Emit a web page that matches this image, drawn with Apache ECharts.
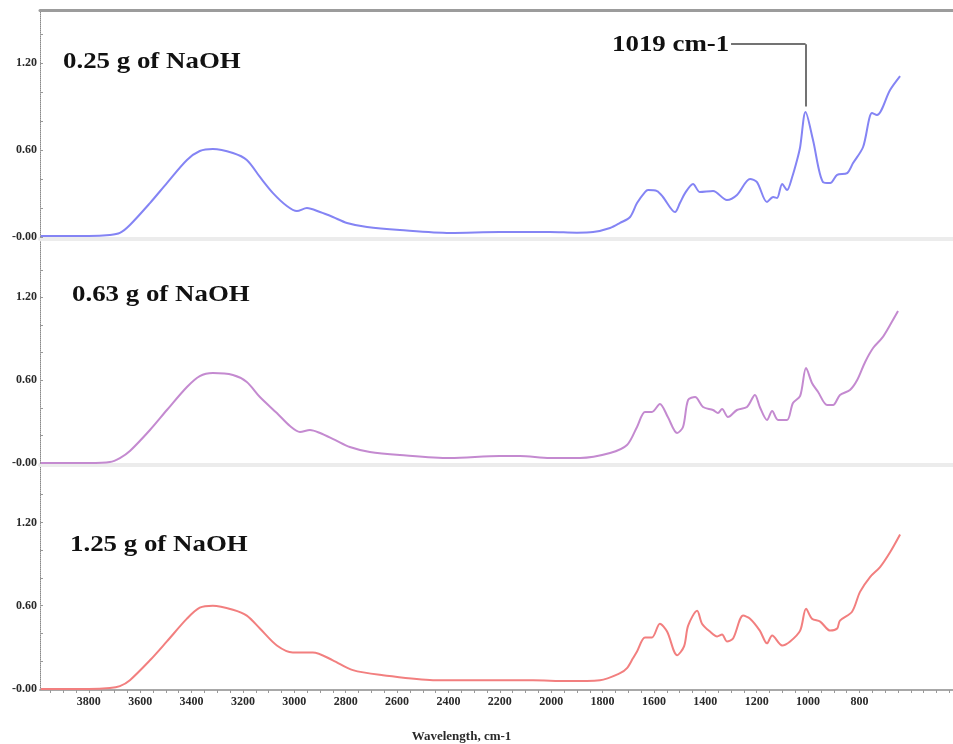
<!DOCTYPE html>
<html>
<head>
<meta charset="utf-8">
<script src="https://cdn.jsdelivr.net/npm/echarts@6/dist/echarts.min.js"></script>
<style>
  html,body{margin:0;padding:0;background:#fff;}
  #chart{width:953px;height:744px;}
</style>
</head>
<body>
<div id="chart"></div>
<script>
// ==================== DATA ====================
// wavenumber (cm-1) / absorbance
const wn1=[3987,3900,3800,3718,3679,3640,3562,3496,3418,3368,3317,3239,3185,3134,3083,3029,2990,2951,2900,2850,2795,2717,2589,2394,2200,2005,1900,1837,1771,1732,1693,1666,1635,1623,1588,1565,1518,1499,1479,1448,1421,1370,1316,1277,1226,1199,1160,1136,1121,1101,1082,1062,1043,1031,1010,981,942,914,887,848,825,786,751,732,681,642];
const ab1=[0.007,0.007,0.007,0.014,0.028,0.083,0.234,0.372,0.531,0.593,0.607,0.579,0.531,0.414,0.303,0.214,0.179,0.200,0.172,0.138,0.097,0.069,0.048,0.028,0.034,0.034,0.030,0.034,0.062,0.097,0.138,0.234,0.310,0.324,0.317,0.276,0.172,0.234,0.303,0.366,0.310,0.317,0.255,0.290,0.400,0.379,0.241,0.276,0.269,0.366,0.324,0.414,0.531,0.621,0.862,0.669,0.379,0.372,0.428,0.441,0.510,0.621,0.855,0.841,1.014,1.110];

const wn2=[3987,3800,3718,3679,3640,3562,3496,3418,3368,3317,3239,3185,3134,3068,3017,2978,2939,2900,2842,2784,2706,2589,2394,2200,2122,2005,1888,1771,1705,1666,1635,1608,1577,1546,1510,1487,1467,1440,1409,1370,1351,1335,1312,1277,1238,1207,1188,1160,1140,1117,1082,1059,1031,1008,985,961,926,903,876,837,809,778,747,712,681,650];
const ab2=[0.000,0.000,0.007,0.036,0.087,0.239,0.384,0.551,0.630,0.652,0.638,0.587,0.478,0.362,0.268,0.225,0.239,0.217,0.167,0.116,0.080,0.058,0.036,0.051,0.051,0.036,0.036,0.072,0.130,0.261,0.370,0.370,0.428,0.333,0.217,0.261,0.457,0.478,0.406,0.384,0.362,0.391,0.333,0.384,0.406,0.493,0.406,0.312,0.377,0.312,0.312,0.435,0.486,0.688,0.580,0.514,0.420,0.420,0.493,0.529,0.601,0.732,0.833,0.906,1.000,1.101];

const wn3=[3987,3800,3718,3679,3640,3562,3496,3418,3368,3317,3239,3185,3134,3068,3006,2928,2850,2772,2655,2460,2266,2071,1939,1810,1732,1705,1682,1666,1635,1608,1577,1549,1510,1483,1467,1432,1413,1382,1354,1335,1316,1292,1253,1226,1188,1160,1140,1101,1070,1031,1008,985,953,914,887,876,829,798,759,720,681,642];
const ab3=[0.000,0.000,0.007,0.021,0.064,0.207,0.343,0.507,0.586,0.600,0.571,0.529,0.436,0.314,0.264,0.264,0.207,0.136,0.100,0.064,0.064,0.064,0.057,0.064,0.114,0.150,0.221,0.271,0.371,0.371,0.471,0.414,0.243,0.307,0.457,0.564,0.471,0.414,0.379,0.393,0.343,0.364,0.529,0.507,0.421,0.329,0.386,0.314,0.343,0.421,0.579,0.507,0.486,0.421,0.436,0.493,0.557,0.700,0.807,0.879,0.986,1.114];

const panelNames=['0.25 g of NaOH','0.63 g of NaOH','1.25 g of NaOH'];
const xTickLabels=[3800,3600,3400,3200,3000,2800,2600,2400,2200,2000,1800,1600,1400,1200,1000,800];
const yTickLabels=[0,0.6,1.2];
const peakLabel='1019 cm-1', peakWn=1010, peakTop=1.33, peakLeaderEnd=1300, peakLeaderLow=0.9;

// ==================== CHART ====================
const FONT='"Liberation Serif", "Times New Roman", serif';
const colors=['#8484f4','#c48ad0','#f27f7f'];
const XMIN=436, XMAX=3990;
const minorX=[]; for(let v=450; v<=3950; v+=50) minorX.push(v);
const minorY=[0,0.2,0.4,0.6,0.8,1.0,1.2,1.4];

const grids=[
  {left:40,right:0,top:10,height:229, ymin:-0.0138, ymax:1.566},
  {left:40,right:0,top:239,height:226, ymin:-0.0145, ymax:1.623},
  {left:40,right:0,top:465,height:227, ymin:-0.007, ymax:1.614},
];

const zip=(a,b)=>a.map((v,i)=>[v,b[i]]);

function xAx(gi, extra){
  return Object.assign({type:'value',gridIndex:gi,min:XMIN,max:XMAX,inverse:true,
    axisLabel:{show:false},axisTick:{show:false},splitLine:{show:false}},extra);
}
const line=(color,width)=>({onZero:false,lineStyle:{color,width}});

const xAxis=[
  xAx(0,{position:'top',axisLine:line('#9c9c9c',3)}),
  xAx(0,{position:'bottom',axisLine:line('#ececec',4)}),
  xAx(1,{position:'bottom',axisLine:line('#ececec',4)}),
  xAx(2,{position:'bottom',axisLine:line('#a8a8a8',2),
    axisTick:{show:true,customValues:minorX,length:3,lineStyle:{color:'#999'}},
    axisLabel:{show:true,customValues:xTickLabels,margin:6,color:'#2a2a2a',fontFamily:FONT,fontSize:12,fontWeight:'bold',formatter:v=>String(v)},
    name:'Wavelength, cm-1',nameLocation:'middle',nameGap:40,
    nameTextStyle:{fontFamily:FONT,fontSize:13,fontWeight:'bold',color:'#2a2a2a',padding:[0,70,0,0]}}),
];

const yAxis=grids.map((g,i)=>({type:'value',gridIndex:i,min:g.ymin,max:g.ymax,
  axisLine:{show:true,onZero:false,lineStyle:{color:'#8a8a8a',type:'dotted',width:1}},
  axisTick:{show:true,inside:true,length:3,customValues:minorY,lineStyle:{color:'#999'}},
  axisLabel:{customValues:yTickLabels,margin:3,color:'#2a2a2a',fontFamily:FONT,fontSize:12,fontWeight:'bold',
    formatter:v=>v===0?'-0.00':v.toFixed(2)},
  splitLine:{show:false}}));

const data=[zip(wn1,ab1),zip(wn2,ab2),zip(wn3,ab3)];
const axisFor=[1,2,3];
const series=data.map((d,i)=>({type:'line',xAxisIndex:axisFor[i],yAxisIndex:i,data:d,
  showSymbol:false,smooth:0.3,lineStyle:{color:colors[i],width:2},
  itemStyle:{color:colors[i]},silent:true}));

// leader line for the 1019 cm-1 band
series[0].markLine={silent:true,symbol:['none','none'],animation:false,label:{show:false},
  lineStyle:{color:'#444',width:1.5,type:'solid'},
  data:[
    [{coord:[peakLeaderEnd,peakTop]},{coord:[peakWn,peakTop]}],
    [{coord:[peakWn,peakTop]},{coord:[peakWn,peakLeaderLow]}],
  ]};

const labelPos=[[63,62],[72,295],[70,545]];
const graphic=panelNames.map((t,i)=>({type:'text',x:labelPos[i][0],y:labelPos[i][1],scaleX:1.12,silent:true,
  style:{text:t,font:'bold 24px '+FONT,fill:'#111',verticalAlign:'middle'}}));
graphic.push({type:'text',x:612,y:45,scaleX:1.12,silent:true,
  style:{text:peakLabel,font:'bold 24px '+FONT,fill:'#111',verticalAlign:'middle'}});

const chart=echarts.init(document.getElementById('chart'));
chart.setOption({backgroundColor:'#fff',animation:false,grid:grids.map(g=>({left:g.left,right:g.right,top:g.top,height:g.height})),
  xAxis,yAxis,series,graphic});
</script>
</body>
</html>
